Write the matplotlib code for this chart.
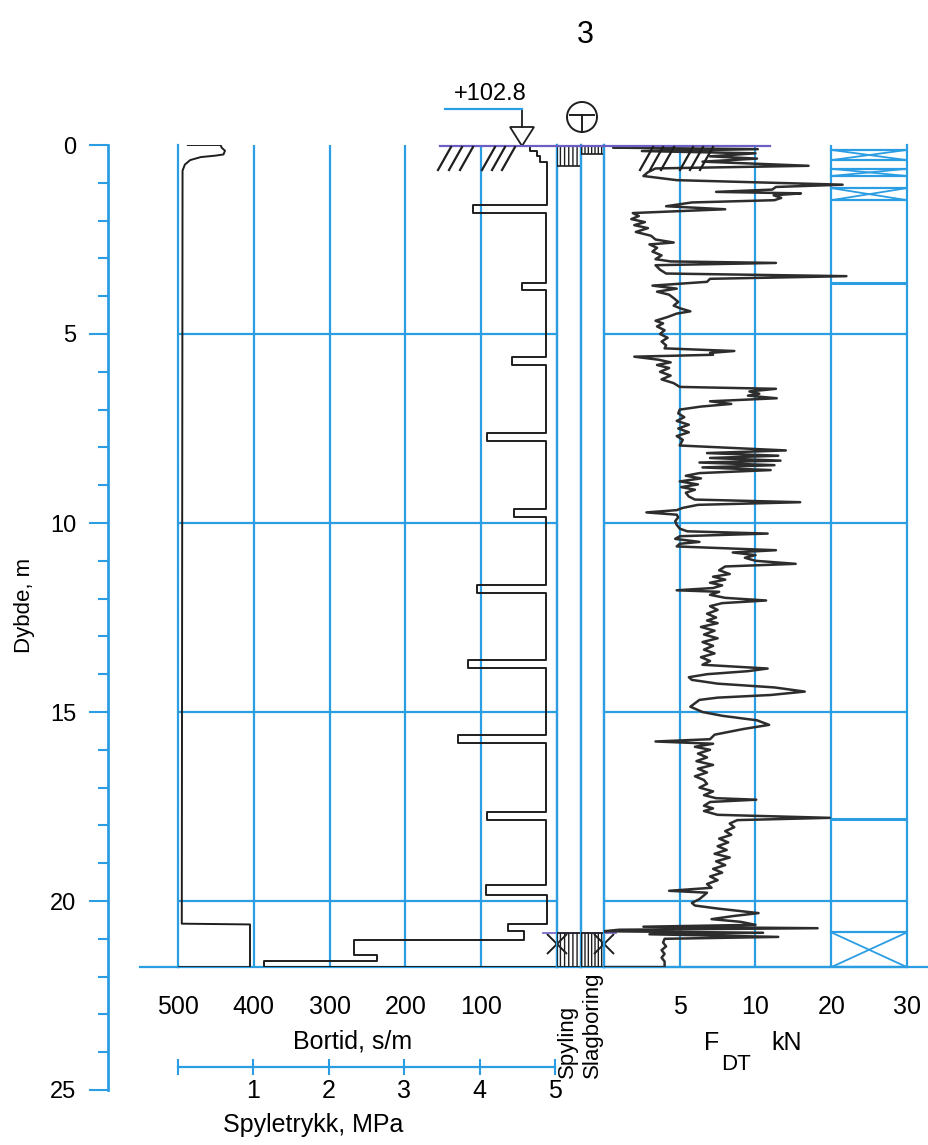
import numpy as np
import matplotlib
matplotlib.use('Agg')
import matplotlib.pyplot as plt
from matplotlib.patches import Polygon, Circle

W, H = 929, 1145
TOP = 145          # pixel row of depth 0
PX_PER_M = 37.8    # pixels per metre of depth
BLUE = '#2b9de3'
PURPLE = '#6b5fc4'
INK = '#1e1e1e'
FONT = ['Liberation Sans', 'DejaVu Sans']
plt.rcParams['font.family'] = FONT

bottom_depth = 21.75
depth_grid = [5, 10, 15, 20]
depth_ticks = [0, 5, 10, 15, 20, 25]

# Bortid, s/m (value holds from depth[i] down to depth[i+1])
bortid_depth = [0.0, 0.15, 0.28, 0.46, 1.59, 1.80, 2.8, 3.65, 3.84, 5.60, 5.82,
                7.62, 7.83, 9.63, 9.84, 11.64, 11.85, 13.62, 13.84, 15.60, 15.82,
                17.65, 17.86, 19.58, 19.84, 20.60, 20.80, 21.03, 21.43, 21.60]
bortid_value = [36, 27, 23, 13, 111, 14, 15, 46, 15, 60, 14,
                93, 15, 57, 14, 105, 15, 118, 15, 131, 15,
                93, 14, 94, 13, 64, 44, 268, 238, 386]

# Spyletrykk, MPa
spyle_depth = [0.0, 0.0, 0.08, 0.15, 0.25, 0.28, 0.32, 0.40, 0.52, 0.68,
               20.60, 20.62, 21.75, 21.75]
spyle_value = [0.13, 0.56, 0.58, 0.62, 0.60, 0.50, 0.30, 0.16, 0.09, 0.06,
               0.05, 0.95, 0.95, 0.0]

# F_DT, kN
fdt_depth = [0.00, 0.04, 0.07, 0.11, 0.16, 0.22, 0.30, 0.36, 0.44, 0.55,
             0.62, 0.72, 0.82, 0.93, 1.05, 1.11, 1.18, 1.24, 1.28, 1.33,
             1.40, 1.46, 1.52, 1.62, 1.70, 1.80, 1.88, 1.96, 2.04, 2.12,
             2.20, 2.30, 2.40, 2.50, 2.58, 2.63, 2.72, 2.82, 2.92, 3.02,
             3.08, 3.12, 3.18, 3.30, 3.40, 3.47, 3.54, 3.62, 3.72, 3.80,
             3.88, 3.96, 4.05, 4.15, 4.25, 4.33, 4.40, 4.46, 4.55, 4.65,
             4.72, 4.80, 4.90, 5.00, 5.10, 5.20, 5.30, 5.38, 5.45, 5.50,
             5.55, 5.60, 5.68, 5.75, 5.82, 5.90, 6.00, 6.10, 6.20, 6.30,
             6.40, 6.45, 6.52, 6.58, 6.63, 6.70, 6.78, 6.85, 6.92, 7.00,
             7.10, 7.20, 7.30, 7.40, 7.50, 7.60, 7.70, 7.80, 7.95, 8.08,
             8.15, 8.22, 8.28, 8.35, 8.40, 8.47, 8.53, 8.60, 8.68, 8.75,
             8.82, 8.90, 8.98, 9.05, 9.12, 9.20, 9.30, 9.38, 9.45, 9.52,
             9.60, 9.66, 9.72, 9.78, 9.85, 9.95, 10.05, 10.15, 10.22, 10.28,
             10.35, 10.42, 10.50, 10.55, 10.62, 10.72, 10.78, 10.85, 10.92, 11.00,
             11.08, 11.15, 11.25, 11.35, 11.42, 11.50, 11.58, 11.65, 11.72, 11.78,
             11.82, 11.90, 11.98, 12.05, 12.12, 12.20, 12.30, 12.40, 12.50, 12.58,
             12.65, 12.75, 12.85, 12.95, 13.05, 13.15, 13.25, 13.35, 13.45, 13.55,
             13.65, 13.75, 13.85, 13.92, 14.00, 14.08, 14.15, 14.25, 14.35, 14.46,
             14.55, 14.62, 14.68, 14.86, 15.00, 15.10, 15.22, 15.34, 15.45, 15.52,
             15.60, 15.72, 15.78, 15.84, 15.92, 16.00, 16.10, 16.20, 16.30, 16.40,
             16.50, 16.60, 16.70, 16.80, 16.90, 17.00, 17.10, 17.20, 17.28, 17.32,
             17.38, 17.48, 17.55, 17.62, 17.72, 17.80, 17.86, 17.95, 18.05, 18.15,
             18.25, 18.35, 18.45, 18.55, 18.65, 18.75, 18.85, 18.95, 19.05, 19.15,
             19.25, 19.35, 19.45, 19.55, 19.65, 19.73, 19.78, 19.85, 19.95, 20.05,
             20.12, 20.20, 20.32, 20.40, 20.48, 20.55, 20.63, 20.68, 20.72, 20.76,
             20.80, 20.84, 20.88, 20.95, 21.00, 21.10, 21.20, 21.30, 21.40, 21.50,
             21.60, 21.75, 21.75]
fdt_kn = [0.3, 2.4, 0.6, 10.3, 2.5, 10.0, 7.0, 10.2, 6.5, 17.0,
          3.4, 2.9, 2.6, 4.8, 21.5, 12.7, 12.2, 7.4, 16.0, 12.4,
          13.4, 12.5, 5.8, 4.1, 8.0, 1.9, 2.3, 1.8, 2.7, 2.0,
          2.9, 2.1, 3.1, 3.4, 4.6, 3.0, 3.5, 3.2, 3.8, 3.4,
          4.4, 12.7, 3.4, 3.7, 4.1, 22.0, 7.0, 6.8, 3.2, 4.8,
          3.5, 4.3, 4.6, 4.9, 4.6, 5.1, 5.7, 4.8, 4.2, 3.4,
          3.9, 3.5, 4.0, 3.7, 4.2, 3.8, 4.1, 4.0, 8.6, 7.0,
          7.2, 2.0, 3.6, 4.4, 3.5, 4.3, 3.7, 4.4, 3.8, 4.6,
          5.0, 12.7, 9.6, 10.5, 9.5, 12.8, 7.0, 8.4, 6.4, 5.0,
          4.9, 5.3, 4.8, 5.6, 4.9, 5.6, 4.8, 5.2, 5.0, 14.0,
          6.8, 13.0, 7.0, 13.3, 6.3, 12.5, 6.5, 12.0, 6.3, 5.4,
          6.4, 5.0, 6.2, 5.1, 6.0, 5.4, 5.6, 6.0, 15.9, 6.2,
          5.2, 4.8, 2.8, 4.8, 4.9, 4.7, 4.8, 5.0, 5.5, 11.6,
          5.0, 4.7, 6.3, 5.0, 4.8, 12.7, 8.5, 10.0, 9.3, 10.0,
          15.3, 8.0, 7.6, 8.3, 7.2, 8.0, 7.0, 7.8, 7.2, 4.8,
          7.6, 7.0, 8.0, 11.4, 7.8, 7.0, 7.5, 6.8, 7.4, 6.8,
          7.5, 6.4, 7.3, 6.6, 7.5, 6.5, 7.2, 6.6, 7.3, 6.4,
          7.0, 6.5, 11.6, 9.5, 6.8, 5.6, 5.8, 7.5, 12.5, 16.5,
          12.0, 7.5, 6.3, 5.7, 6.5, 7.8, 10.2, 11.8, 9.2, 8.3,
          7.3, 7.0, 3.4, 7.2, 6.0, 7.0, 6.2, 6.8, 6.1, 7.2,
          6.2, 6.8, 6.0, 6.6, 6.8, 6.3, 7.2, 6.6, 7.4, 10.1,
          7.0, 6.6, 7.2, 6.6, 7.5, 19.8, 8.8, 8.3, 8.6, 8.0,
          8.4, 7.6, 8.2, 7.5, 8.1, 7.3, 8.3, 7.4, 8.0, 7.2,
          7.8, 7.0, 7.5, 6.8, 7.1, 4.3, 6.8, 6.6, 6.3, 5.8,
          6.0, 7.5, 10.4, 8.5, 7.1, 9.0, 10.0, 2.6, 18.2, 1.0,
          0.0, 11.0, 3.0, 13.0, 4.0, 3.9, 4.1, 3.8, 4.0, 3.8,
          4.0, 4.0, 0.0]

spyling_intervals = [(0.0, 0.55), (20.85, 21.75)]
slagboring_intervals = [(0.0, 0.25), (20.85, 21.75)]
stop_depth = 21.15

rock_boxes = [(0.13, 0.40), (0.63, 0.82), (1.14, 1.46), (20.83, 21.75)]
rock_lines = [3.65, 17.82]

bortid_ticks = [500, 400, 300, 200, 100]
fdt_ticks = [5, 10, 20, 30]
spyle_ticks = [0, 1, 2, 3, 4, 5]
spyle_labels = ['', '1', '2', '3', '4', '5']


def rect(x0, y0, x1, y1):
    return [x0 / W, 1 - y1 / H, (x1 - x0) / W, (y1 - y0) / H]


def ypix(d):
    return TOP + d * PX_PER_M


def steps(depths, values, end):
    xs, ys = [], []
    bounds = list(depths[1:]) + [end]
    for d0, d1, v in zip(depths, bounds, values):
        ys += [d0, d1]
        xs += [v, v]
    return xs, ys


def fdt_fwd(x):
    x = np.asarray(x, dtype=float)
    return np.where(x <= 10, x, 10 + (x - 10) / 2)


def fdt_inv(u):
    u = np.asarray(u, dtype=float)
    return np.where(u <= 10, u, 10 + (u - 10) * 2)


def panel_style(ax):
    ax.spines['top'].set_visible(False)
    for s in ['left', 'right', 'bottom']:
        ax.spines[s].set_color(BLUE)
        ax.spines[s].set_linewidth(1.6)
    ax.set_ylim(bottom_depth, 0)
    ax.set_yticks([])
    ax.patch.set_visible(False)


fig = plt.figure(figsize=(W / 100, H / 100), dpi=100)
YB = ypix(bottom_depth)

# depth axis
ax_d = fig.add_axes(rect(108, TOP, 109, ypix(25)))
ax_d.set_ylim(25, 0)
for s in ['top', 'right', 'bottom']:
    ax_d.spines[s].set_visible(False)
ax_d.spines['left'].set_color(BLUE)
ax_d.spines['left'].set_linewidth(2)
ax_d.set_xticks([])
ax_d.set_yticks(depth_ticks)
ax_d.set_yticks(range(26), minor=True)
ax_d.tick_params(axis='y', which='major', length=14, width=1.5, color=BLUE,
                 pad=9, labelsize=17)
ax_d.tick_params(axis='y', which='minor', length=7, width=1.5, color=BLUE)
ax_d.patch.set_visible(False)

# Bortid panel
ax_b = fig.add_axes(rect(178, TOP, 557, YB))
panel_style(ax_b)
ax_b.set_xlim(500, 0)
ax_b.set_xticks(bortid_ticks)
ax_b.tick_params(axis='x', length=0, pad=20, labelsize=18)
for v in bortid_ticks[1:]:
    ax_b.axvline(v, color=BLUE, lw=1.6, zorder=1)
for d in depth_grid:
    ax_b.axhline(d, color=BLUE, lw=1.6, zorder=1)
ax_b.axhline(bottom_depth, xmin=-0.1, xmax=0, color=BLUE, lw=1.6, clip_on=False)
bx, by = steps(bortid_depth, bortid_value, bottom_depth)
bx.append(0)
by.append(bottom_depth)
ax_b.plot(bx, by, color=INK, lw=1.4, zorder=3)

# Spyletrykk curve on the same area
ax_pc = fig.add_axes(rect(178, TOP, 557, YB))
ax_pc.set_xlim(0, 5)
ax_pc.set_ylim(bottom_depth, 0)
ax_pc.axis('off')
ax_pc.plot(spyle_value, spyle_depth, color=INK, lw=1.4)

# Spyletrykk scale
ax_ps = fig.add_axes(rect(178, 1066, 555, 1067))
ax_ps.set_xlim(0, 5)
for s in ['top', 'right', 'left']:
    ax_ps.spines[s].set_visible(False)
ax_ps.spines['bottom'].set_color(BLUE)
ax_ps.spines['bottom'].set_linewidth(1.6)
ax_ps.set_yticks([])
ax_ps.set_xticks(spyle_ticks)
ax_ps.set_xticklabels(spyle_labels)
ax_ps.tick_params(axis='x', direction='inout', length=12, width=1.5,
                  color=BLUE, pad=3, labelsize=18)
ax_ps.patch.set_visible(False)

# Spyling / Slagboring columns
ax_s = fig.add_axes(rect(557, TOP, 581, YB))
ax_g = fig.add_axes(rect(581, TOP, 604, YB))
for ax, spans, hatch in [(ax_s, spyling_intervals, '||||'),
                         (ax_g, slagboring_intervals, '|||||')]:
    panel_style(ax)
    ax.set_xlim(0, 1)
    ax.set_xticks([])
    for d0, d1 in spans:
        ax.fill_betweenx([d0, d1], 0, 1, facecolor='none', edgecolor=INK,
                         hatch=hatch, lw=1.2, zorder=3)
ax_s.plot([0], [stop_depth], marker='x', ms=15, mew=1.4, color=INK, clip_on=False)
ax_g.plot([1], [stop_depth], marker='x', ms=15, mew=1.4, color=INK, clip_on=False)
ax_s.plot([-0.6, 1], [20.85, 20.85], color=PURPLE, lw=1.2, clip_on=False)
ax_g.plot([0, 1.5], [20.85, 20.85], color=PURPLE, lw=1.2, clip_on=False)

# F_DT panel
ax_f = fig.add_axes(rect(604, TOP, 907, YB))
panel_style(ax_f)
ax_f.set_xscale('function', functions=(fdt_fwd, fdt_inv))
ax_f.set_xlim(0, 30)
ax_f.set_xticks(fdt_ticks)
ax_f.set_xticklabels([str(t) for t in fdt_ticks])
ax_f.xaxis.set_minor_locator(matplotlib.ticker.NullLocator())
ax_f.tick_params(axis='x', length=0, pad=20, labelsize=18)
for v in fdt_ticks[:-1]:
    ax_f.axvline(v, color=BLUE, lw=1.6, zorder=1)
for d in depth_grid:
    ax_f.axhline(d, color=BLUE, lw=1.6, zorder=1)
ax_f.axhline(bottom_depth, xmin=0, xmax=(929 - 604) / (907 - 604), color=BLUE,
             lw=1.6, clip_on=False)
for d0, d1 in rock_boxes:
    ax_f.plot([20, 30], [d0, d0], color=BLUE, lw=1.6)
    ax_f.plot([20, 30], [d1, d1], color=BLUE, lw=1.6)
    ax_f.plot([20, 30], [d0, d1], color=BLUE, lw=1.3)
    ax_f.plot([20, 30], [d1, d0], color=BLUE, lw=1.3)
for d in rock_lines:
    ax_f.plot([20, 30], [d, d], color=BLUE, lw=2.2)
ax_f.plot(fdt_kn, fdt_depth, color='#2d2d2d', lw=1.8, zorder=3)

# overlay for symbols and labels (pixel coordinates)
ov = fig.add_axes([0, 0, 1, 1])
ov.set_xlim(0, W)
ov.set_ylim(H, 0)
ov.axis('off')
ov.patch.set_visible(False)

ov.plot([440, 770], [TOP + 1, TOP + 1], color=PURPLE, lw=1.6)
for x0 in [438, 449, 460, 482, 492, 502, 640, 650, 661, 680, 690, 700]:
    ov.plot([x0, x0 + 13], [170, 147], color=INK, lw=1.6)
ov.add_patch(Polygon([[510, 127], [534, 127], [522, 146]], closed=True,
                     fill=False, edgecolor=INK, lw=1.3))
ov.plot([522, 522], [109, 127], color=INK, lw=1.3)
ov.plot([445, 522], [109, 109], color=BLUE, lw=1.6)
ov.text(490, 94, '+102.8', ha='center', va='center', fontsize=17)
ov.add_patch(Circle((582, 117), 15, fill=False, edgecolor=INK, lw=1.4))
ov.plot([570, 594], [115, 115], color=INK, lw=1.4)
ov.plot([582, 582], [115, 132], color=INK, lw=1.4)
ov.text(585, 35, '3', ha='center', va='center', fontsize=22)

ov.text(25, 605, 'Dybde, m', rotation=90, ha='center', va='center', fontsize=16)
ov.text(353, 1041, 'Bortid, s/m', ha='center', va='center', fontsize=18)
ov.text(313, 1125, 'Spyletrykk, MPa', ha='center', va='center', fontsize=18)
ov.text(567, 1078, 'Spyling', rotation=90, ha='center', va='bottom', fontsize=16)
ov.text(592, 1078, 'Slagboring', rotation=90, ha='center', va='bottom', fontsize=16)
ov.text(712, 1043, 'F', ha='center', va='center', fontsize=18)
ov.text(721, 1064, 'DT', ha='left', va='center', fontsize=16)
ov.text(787, 1043, 'kN', ha='center', va='center', fontsize=18)

fig.savefig('out.png', dpi=100)
